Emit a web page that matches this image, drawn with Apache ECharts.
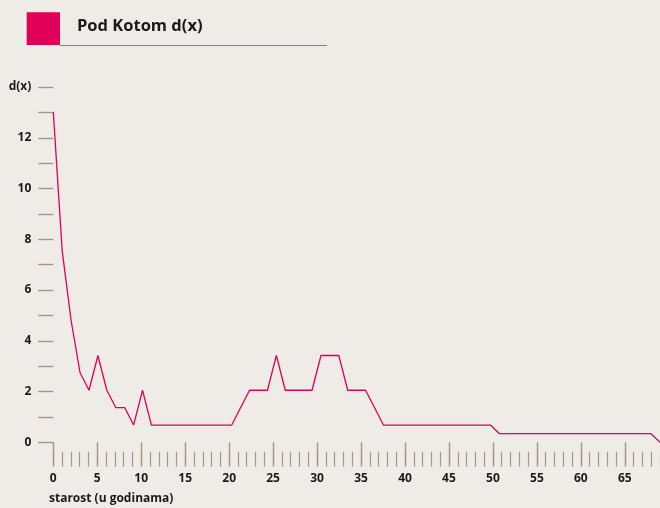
<!DOCTYPE html>
<html>
<head>
<meta charset="utf-8">
<script src="https://cdn.jsdelivr.net/npm/echarts@6/dist/echarts.min.js"></script>
<style>
  html, body { margin: 0; padding: 0; background: #efebe7; }
  #chart { width: 660px; height: 508px; }
</style>
</head>
<body>
<div id="chart"></div>
<script>
// Ages (years) and the d(x) column of the life table
const ages = [
  0, 1, 2, 3, 4, 5, 6, 7, 8, 9,
  10, 11, 12, 13, 14, 15, 16, 17, 18, 19,
  20, 21, 22, 23, 24, 25, 26, 27, 28, 29,
  30, 31, 32, 33, 34, 35, 36, 37, 38, 39,
  40, 41, 42, 43, 44, 45, 46, 47, 48, 49,
  50, 51, 52, 53, 54, 55, 56, 57, 58, 59,
  60, 61, 62, 63, 64, 65, 66, 67, 68
];
const dx = [
  13.01, 7.53, 4.79, 2.74, 2.05, 3.42, 2.05, 1.37, 1.37, 0.68,
  2.05, 0.68, 0.68, 0.68, 0.68, 0.68, 0.68, 0.68, 0.68, 0.68,
  0.68, 1.37, 2.05, 2.05, 2.05, 3.42, 2.05, 2.05, 2.05, 2.05,
  3.42, 3.42, 3.42, 2.05, 2.05, 2.05, 1.37, 0.68, 0.68, 0.68,
  0.68, 0.68, 0.68, 0.68, 0.68, 0.68, 0.68, 0.68, 0.68, 0.68,
  0.34, 0.34, 0.34, 0.34, 0.34, 0.34, 0.34, 0.34, 0.34, 0.34,
  0.34, 0.34, 0.34, 0.34, 0.34, 0.34, 0.34, 0.34, 0
];
const yLabels = { 0: '0', 2: '2', 4: '4', 6: '6', 8: '8', 10: '10', 12: '12', 14: 'd(x)' };
const titleText = 'Pod Kotom d(x)';
const xName = 'starost (u godinama)';

const FONT = '"Open Sans"';
const INK = '#1c1a19';
const TICK = '#a39786';
const ACCENT = '#e0005a';

const chart = echarts.init(document.getElementById('chart'), null, { renderer: 'canvas' });

chart.setOption({
  backgroundColor: '#efebe7',
  animation: false,
  grid: { left: 53.3, right: 0, top: 87, bottom: 65.7, containLabel: false },
  xAxis: [
    {
      // major ticks and labels every 5 years
      type: 'value', min: 0, max: 69, interval: 5, position: 'bottom', offset: 2,
      axisLine: { show: false },
      axisTick: { show: true, length: 23, lineStyle: { color: TICK, width: 1.4 } },
      splitLine: { show: false },
      axisLabel: {
        show: true, margin: 28, showMaxLabel: false,
        fontFamily: FONT, fontWeight: 'bold', fontSize: 12, color: INK
      }
    },
    {
      // minor ticks every year
      type: 'value', min: 0, max: 69, interval: 1, position: 'bottom', offset: 9.5,
      axisLine: { show: false },
      axisTick: { show: true, length: 15, lineStyle: { color: TICK, width: 1.2 } },
      splitLine: { show: false },
      axisLabel: { show: false }
    },
    {
      // scale of the plotted series
      type: 'value', min: 0, max: 68, show: false
    }
  ],
  yAxis: {
    type: 'value', min: 0, max: 14, interval: 1, offset: 2,
    axisLine: { show: false },
    axisTick: { show: true, length: 15, lineStyle: { color: TICK, width: 1.4 } },
    splitLine: { show: false },
    axisLabel: {
      margin: 20,
      fontFamily: FONT, fontWeight: 'bold', fontSize: 12, color: INK,
      formatter: v => (yLabels[v] !== undefined ? yLabels[v] : '')
    }
  },
  series: [{
    type: 'line',
    xAxisIndex: 2,
    data: ages.map((a, i) => [a, dx[i]]),
    symbol: 'none',
    lineStyle: { color: ACCENT, width: 1.3 },
    clip: false
  }],
  graphic: [
    { type: 'rect', left: 26.7, top: 12.3, shape: { width: 33.3, height: 32.7 }, style: { fill: ACCENT } },
    { type: 'line', shape: { x1: 60, y1: 45.5, x2: 327, y2: 45.5 }, style: { stroke: '#8d7e6e', lineWidth: 1 } },
    {
      type: 'text', left: 77, top: 18,
      style: { text: titleText, fontFamily: FONT, fontWeight: 'bold', fontSize: 16.5, fill: INK }
    },
    {
      type: 'text', left: 49, top: 493,
      style: { text: xName, fontFamily: FONT, fontWeight: 'bold', fontSize: 12, fill: INK }
    }
  ]
});
</script>
</body>
</html>
